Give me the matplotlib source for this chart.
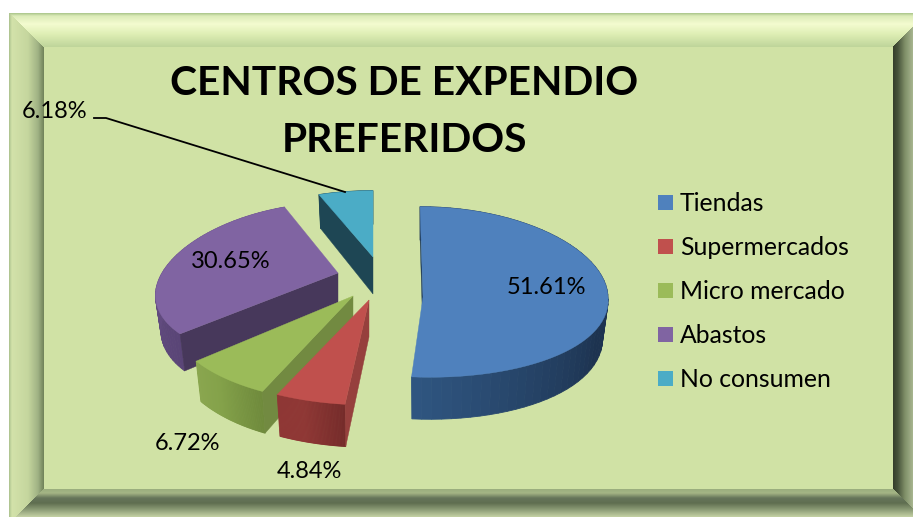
import numpy as np
import matplotlib
matplotlib.use('Agg')
import matplotlib.pyplot as plt
from matplotlib.colors import to_rgb

# Chart data
categories = ['Tiendas', 'Supermercados', 'Micro mercado', 'Abastos', 'No consumen']
values = [51.61, 4.84, 6.72, 30.65, 6.18]
title_lines = ['CENTROS DE EXPENDIO', 'PREFERIDOS']

# Slice colours
top_colors = ['#4f81bd', '#c0504d', '#9bbb59', '#8064a2', '#4bacc6']
face_colors = ['#1f3a57', '#96403d', '#728a41', '#47385b', '#1e4654']
wall_stops = [['#1d3350', '#1d3350', '#2f5580'], ['#752b2a', '#8f3735', '#8f3735'],
              ['#6f8a3c', '#84a24a', '#8aa64f'], ['#5a4577', '#6a5288', '#6a5288'],
              ['#1e4654', '#1e4654', '#1e4654']]

# Projection of every exploded slice, in pixels of the picture
apex_x = [423, 369, 353, 338, 373]
apex_y = [297, 300, 296, 273, 257]
rad_x = [185, 190, 177, 176, 178]
rad_y = [85, 84, 80, 81, 84]
persp_x = [0.0, 0.2, 0.25, 0.266, 0.266]
persp_y = [-0.059, 0.2, 0.25, 0.148, 0.266]
shear_back = [0.033, 0, 0, 0, 0]
shear_front = [0.09, 0, 0, 0, 0]
depth = [38, 37, 37, 34, 37]
BOTTOM_KX = 0.97
BOTTOM_KY = 1.05

W, H = 913, 517
INNER = '#d0e2a5'

plt.rcParams['font.family'] = ['Lato', 'DejaVu Sans']
fig = plt.figure(figsize=(W / 100, H / 100), dpi=100)
ax = fig.add_axes([0, 0, 1, 1])


def band(pos, stops):
    # Interpolate a colour ramp along pos
    where = [s[0] for s in stops]
    rgb = np.array([to_rgb(s[1]) for s in stops])
    return np.stack([np.interp(pos, where, rgb[:, i]) for i in range(3)], axis=-1)


"""Bevelled frame around the plot area"""
yy, xx = np.mgrid[0:H, 0:W] + 0.5
img = np.ones((H, W, 3))
d_left = (44 - xx) / 35
d_top = (47 - yy) / 34
d_right = (xx - 893) / 34
d_bottom = (yy - 489) / 34
d_max = np.maximum.reduce([d_left, d_top, d_right, d_bottom])
inside_outer = (xx >= 9) & (yy >= 13)
ramp_left = band(xx, [(9, '#a9c08c'), (12, '#d3e2aa'), (28, '#c5d69e'), (38, '#a0b284'), (44, '#6f8259')])
ramp_top = band(yy, [(13, '#a8c488'), (16, '#dcebb8'), (24, '#f4fcd0'), (35, '#dcedb2'), (47, '#bed49a')])
ramp_right = band(xx, [(893, '#333d2a'), (898, '#48543b'), (905, '#7f8f68'), (913, '#a8b690')])
ramp_bottom = band(yy, [(489, '#9aad7e'), (493, '#a5b585'), (498, '#66755a'), (503, '#5f6e50'),
                        (510, '#8f9f78'), (517, '#c5d2a5')])
for d, ramp in [(d_left, ramp_left), (d_top, ramp_top), (d_right, ramp_right), (d_bottom, ramp_bottom)]:
    mask = inside_outer & (d >= d_max) & (d_max > 0)
    img[mask] = ramp[mask]
img[d_max <= 0] = to_rgb(INNER)
ax.imshow(img, extent=(0, W, H, 0), interpolation='nearest', zorder=0)


"""Exploded 3D pie, slice angles come from the values"""
def rim(i, theta):
    # Offset of the rim from the apex of slice i, theta clockwise from the top
    t = np.radians(theta)
    dx = rad_x[i] * np.sin(t) / (1 + persp_x[i] * np.cos(t))
    dy = -rad_y[i] * np.cos(t) / (1 + persp_y[i] * np.cos(t))
    dx = dx + np.where(dy < 0, shear_back[i], shear_front[i]) * dy
    return dx, dy


edges = np.cumsum([0] + values) / np.sum(values) * 360
draw_order = [4, 3, 2, 1, 0]
for i in draw_order:
    theta = np.linspace(edges[i], edges[i + 1], 60)
    dx, dy = rim(i, theta)
    top_x = apex_x[i] + dx
    top_y = apex_y[i] + dy
    bot_x = apex_x[i] + dx * BOTTOM_KX
    bot_y = apex_y[i] + depth[i] + dy * BOTTOM_KY
    z = 2 + draw_order.index(i)

    # Outer wall, shaded in thin strips
    frac = np.linspace(0, 1, len(theta) - 1)
    stops = [(0, wall_stops[i][0]), (0.6, wall_stops[i][1]), (1, wall_stops[i][2])]
    shades = band(frac, stops)
    for k in range(len(theta) - 1):
        ax.fill([top_x[k], top_x[k + 1], bot_x[k + 1], bot_x[k]],
                [top_y[k], top_y[k + 1], bot_y[k + 1], bot_y[k]],
                color=shades[k], lw=0.6, zorder=z)

    # Cut face at the start angle of the slice
    ax.fill([apex_x[i], top_x[0], bot_x[0], apex_x[i]],
            [apex_y[i], top_y[0], bot_y[0], apex_y[i] + depth[i]],
            color=face_colors[i], lw=0.3, zorder=z)

    # Top surface
    ax.fill(np.r_[apex_x[i], top_x], np.r_[apex_y[i], top_y],
            color=top_colors[i], lw=0.3, zorder=z)

"""Title"""
title_y = [95, 152]
for line, y in zip(title_lines, title_y):
    ax.text(404, y, line, fontsize=29.3, fontweight='bold', color='black',
            ha='center', va='baseline', zorder=20)

"""Value labels"""
label_x = [546, 309, 187, 231, 55]
label_y = [288, 472, 443, 262, 112]
for v, x, y in zip(values, label_x, label_y):
    ax.text(x, y, f'{v:.2f}%', fontsize=17, color='black', ha='center', va='center', zorder=20)

# Leader line of the smallest label
ax.plot([94, 106, 345], [118, 118, 192], color='black', lw=1.3, zorder=20)

"""Legend"""
for n, name in enumerate(categories):
    y = 202.5 + 44 * n
    ax.fill([658, 673, 673, 658], [y - 7.5, y - 7.5, y + 7.5, y + 7.5], color=top_colors[n], lw=0, zorder=20)
    ax.text(680, y + 1, name, fontsize=17.8, color='black', ha='left', va='center', zorder=20)

ax.set_xlim(0, W)
ax.set_ylim(H, 0)
ax.axis('off')
fig.savefig('out.png', dpi=100)
